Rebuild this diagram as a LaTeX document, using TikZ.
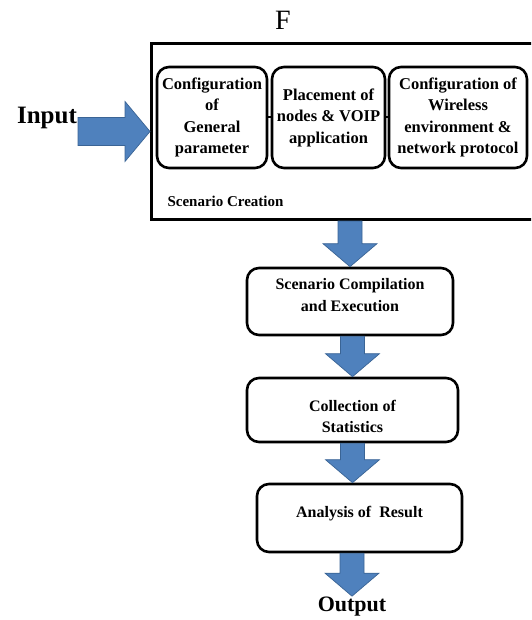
\documentclass[tikz,border=0pt]{standalone}
\usepackage{fontspec}
\setmainfont{Liberation Serif}
\usetikzlibrary{positioning, calc}
\definecolor{arrowblue}{HTML}{4F81BD}
\definecolor{arrowedge}{HTML}{3A6495}
\tikzset{
  stage/.style={draw, line width=2.6pt, rounded corners=12pt, align=center,
    font=\bfseries\fontsize{16}{21.5}\selectfont},
  substage/.style={stage, inner sep=0pt, minimum height=101pt,
    font=\bfseries\fontsize{16.5}{21.5}\selectfont},
  blockarrow/.style={fill=arrowblue, draw=arrowedge, line width=0.7pt}
}
\newcommand{\downblock}[2]{%
  \path[blockarrow] let \p1=(#1), \p2=(#2) in
  (\x2-12pt,\y1) -- (\x2+12pt,\y1) -- (\x2+12pt,\y2+23pt) -- (\x2+27pt,\y2+23pt)
  -- (\x2,\y2) -- (\x2-27pt,\y2+23pt) -- (\x2-12pt,\y2+23pt) -- cycle;}
\newcommand{\rightblock}[2]{%
  \path[blockarrow] let \p1=(#1), \p2=(#2) in
  (\x1,\y2+14pt) -- (\x1,\y2-14pt) -- (\x2-25pt,\y2-14pt) -- (\x2-25pt,\y2-30pt)
  -- (\x2,\y2) -- (\x2-25pt,\y2+30pt) -- (\x2-25pt,\y2+14pt) -- cycle;}
\begin{document}
\begin{tikzpicture}[x=1pt, y=-1pt]
    \useasboundingbox (0,0) rectangle (531,620);
    \clip (0,0) rectangle (531,620);
    \node[font=\fontsize{28}{28}\selectfont] (flabel) at (283,20) {F};
    \node[draw, line width=3pt, minimum width=400pt, minimum height=176pt,
      anchor=north west] (creation) at (150,42) {};
    \node[anchor=west, font=\bfseries\fontsize{15}{17}\selectfont] (creationtxt) at (164,201) {Scenario Creation};
    \node[substage, minimum width=110pt] (general) at (212,117.5)
      {Configuration\\of\\General\\parameter};
    \node[substage, minimum width=113pt] (placement) at (328.5,117.5)
      {Placement of\\nodes \& VOIP\\application};
    \node[substage, minimum width=138pt] (wireless) at (458,117.5)
      {Configuration of\\Wireless\\environment \&\\network protocol};
    \draw[line width=2pt] (general.east) -- (placement.west)
      (placement.east) -- (wireless.west);
    \node[stage, minimum width=206pt, minimum height=67pt] (compile) at (350,301.5)
      {Scenario Compilation\\and Execution\rule[-13pt]{0pt}{13pt}};
    \node[stage, minimum width=211pt, minimum height=64pt] (collect) at (352.5,410)
      {\rule{0pt}{24pt}Collection of\\Statistics};
    \node[stage, minimum width=205pt, minimum height=68pt, text depth=12pt] (analysis) at (359.5,518)
      {Analysis of\ \ Result};
    \node[font=\bfseries\fontsize{25}{25}\selectfont, inner sep=1pt] (input) at (47,118) {Input};
    \node[font=\bfseries\fontsize{22}{22}\selectfont, inner sep=1pt] (output) at (352,607) {Output};
    \rightblock{input.east}{creation.west}
    \downblock{creation.south}{compile.north}
    \downblock{compile.south}{collect.north}
    \downblock{collect.south}{$(analysis.north)+(-7,0)$}
    \downblock{analysis.south}{output.north}
\end{tikzpicture}
\end{document}
